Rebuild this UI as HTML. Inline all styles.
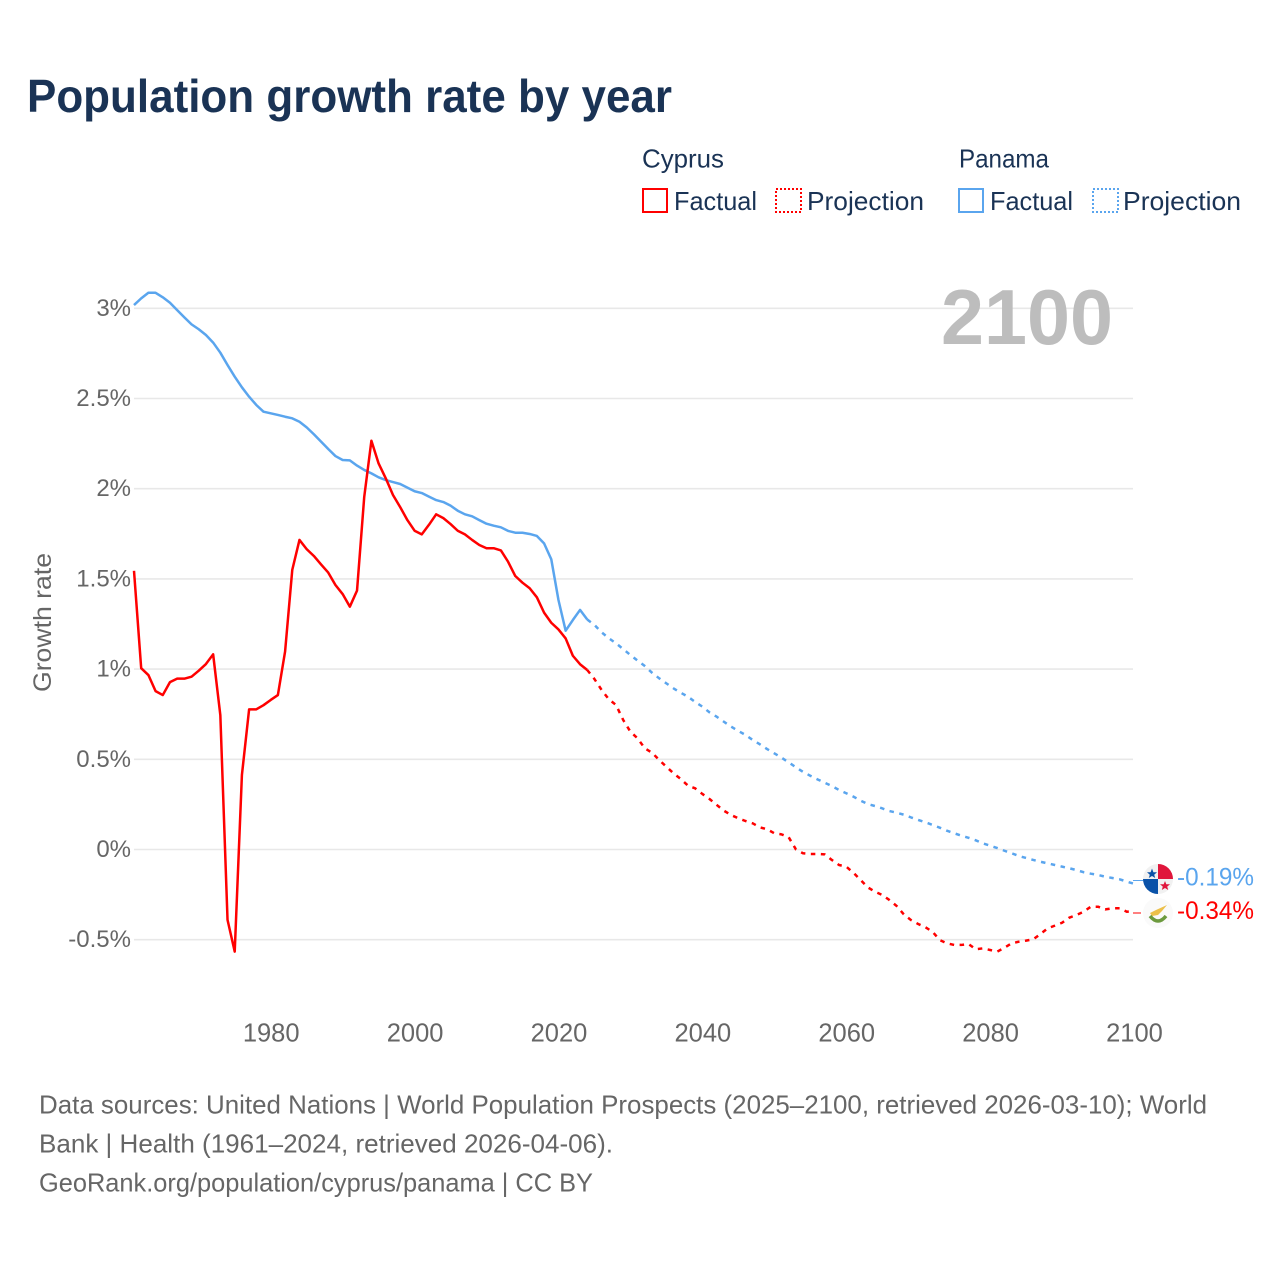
<!DOCTYPE html>
<html lang="en">
<head>
<meta charset="utf-8">
<title>Population growth rate by year</title>
<style>
html,body{margin:0;padding:0;background:#fff;}
svg{display:block;font-family:"Liberation Sans",sans-serif;}
.leg{fill:#1a3355;font-size:26px;}
.foot{fill:#666;font-size:26px;}
.tick{fill:#666;}
.ytick{font-size:24px;}
.xtick{font-size:25.5px;}
</style>
</head>
<body>
<svg id="chart" xmlns="http://www.w3.org/2000/svg" width="1280" height="1280" viewBox="0 0 1280 1280">
  <rect x="0" y="0" width="1280" height="1280" fill="#fff"/>
  <text x="27" y="112" font-size="46" font-weight="700" fill="#1a3355" textLength="645" lengthAdjust="spacingAndGlyphs">Population growth rate by year</text>

  <g>
    <text class="leg" x="642" y="167.5" textLength="82" lengthAdjust="spacingAndGlyphs">Cyprus</text>
    <text class="leg" x="959" y="167.5" textLength="90" lengthAdjust="spacingAndGlyphs">Panama</text>
    <g>
      <rect x="643" y="189" width="24" height="23" fill="none" stroke="#ff0000" stroke-width="2"/>
      <text class="leg" x="674" y="210" textLength="83" lengthAdjust="spacingAndGlyphs">Factual</text>
    </g>
    <g>
      <rect x="776" y="189" width="25" height="23" fill="none" stroke="#ff0000" stroke-width="2" stroke-dasharray="2 2"/>
      <text class="leg" x="807" y="210" textLength="117" lengthAdjust="spacingAndGlyphs">Projection</text>
    </g>
    <g>
      <rect x="959" y="189" width="24" height="23" fill="none" stroke="#5aa5ee" stroke-width="2"/>
      <text class="leg" x="990" y="210" textLength="83" lengthAdjust="spacingAndGlyphs">Factual</text>
    </g>
    <g>
      <rect x="1093" y="189" width="25" height="23" fill="none" stroke="#5aa5ee" stroke-width="2" stroke-dasharray="2 2"/>
      <text class="leg" x="1123" y="210" textLength="118" lengthAdjust="spacingAndGlyphs">Projection</text>
    </g>
  </g>

  <g id="grid"></g>
  <text x="941" y="344" font-size="78" font-weight="700" fill="#bdbdbd" textLength="172" lengthAdjust="spacingAndGlyphs">2100</text>
  <g id="yticks"></g>
  <g id="xticks"></g>
  <text transform="translate(51,692) rotate(-90)" font-size="25" fill="#666" textLength="139" lengthAdjust="spacingAndGlyphs">Growth rate</text>

  <g id="series"></g>

  <g>
    <line x1="1133" y1="880.5" x2="1144" y2="880.5" stroke="#5aa5ee" stroke-width="1"/>
    <circle cx="1158" cy="879" r="15" fill="#f1f1f1"/>
    <path d="M1158 879V864A15 15 0 0 1 1173 879Z" fill="#e0163c"/>
    <path d="M1158 879V894A15 15 0 0 1 1143 879Z" fill="#0a52a8"/>
    <polygon points="1152,868.5 1153.4,872.3 1157,872.3 1154.2,874.7 1155.2,878 1152,876 1148.8,878 1149.8,874.7 1147,872.3 1150.6,872.3" fill="#0a52a8"/>
    <polygon points="1165,881 1166.3,884.3 1170,884.3 1167.2,886.6 1168.2,890 1165,888 1161.8,890 1162.8,886.6 1160,884.3 1163.7,884.3" fill="#e0163c"/>
  </g>
  <g>
    <line x1="1133" y1="913" x2="1141" y2="913" stroke="#ff0000" stroke-width="1"/>
    <circle cx="1158" cy="913" r="15" fill="#fafafa"/>
    <path d="M1150 913L1156 910L1167 905L1162 911L1158 915L1152 916Z" fill="#ecc04a"/>
    <path d="M1150 916Q1158 926 1166 916" fill="none" stroke="#6c9a3e" stroke-width="3.5"/>
  </g>
  <g id="endlabels"></g>

  <g>
    <text class="foot" x="39" y="1113.5" textLength="1168" lengthAdjust="spacingAndGlyphs">Data sources: United Nations | World Population Prospects (2025–2100, retrieved 2026-03-10); World</text>
    <text class="foot" x="39" y="1152.5" textLength="574" lengthAdjust="spacingAndGlyphs">Bank | Health (1961–2024, retrieved 2026-04-06).</text>
    <text class="foot" x="39" y="1191.5" textLength="554" lengthAdjust="spacingAndGlyphs">GeoRank.org/population/cyprus/panama | CC BY</text>
  </g>
</svg>
<script>
const yTickValues = [3, 2.5, 2, 1.5, 1, 0.5, 0, -0.5];
const xTickYears = [1980, 2000, 2020, 2040, 2060, 2080, 2100];
const factualStartYear = 1961;
const projectionStartYear = 2024;
const cyprusFactual = [1.545,1.005,.967,.878,.856,.928,.947,.947,.958,.991,1.028,1.082,.745,-.39,-.566,.413,.777,.777,.80,.829,.856,1.097,1.55,1.716,1.665,1.627,1.58,1.535,1.466,1.416,1.346,1.435,1.954,2.266,2.14,2.057,1.965,1.898,1.826,1.767,1.747,1.80,1.858,1.837,1.804,1.767,1.747,1.716,1.688,1.67,1.67,1.658,1.595,1.516,1.479,1.448,1.398,1.313,1.257,1.22,1.17,1.074,1.027,.995];
const cyprusProjection = [.995,.945,.884,.833,.801,.718,.653,.616,.561,.537,.496,.459,.422,.391,.354,.339,.308,.28,.247,.215,.191,.173,.158,.145,.123,.112,.09,.084,.068,.001,-.021,-.025,-.025,-.027,-.058,-.086,-.095,-.129,-.169,-.21,-.234,-.252,-.28,-.313,-.359,-.391,-.413,-.431,-.456,-.502,-.52,-.529,-.529,-.524,-.553,-.548,-.557,-.566,-.544,-.52,-.511,-.505,-.498,-.468,-.437,-.422,-.406,-.378,-.363,-.345,-.317,-.317,-.332,-.326,-.326,-.345,-.34];
const panamaFactual = [3.018,3.055,3.086,3.086,3.061,3.031,2.99,2.95,2.911,2.884,2.852,2.81,2.754,2.686,2.621,2.562,2.51,2.464,2.427,2.418,2.409,2.399,2.39,2.371,2.34,2.302,2.261,2.22,2.181,2.159,2.157,2.128,2.104,2.085,2.063,2.048,2.037,2.026,2.006,1.986,1.976,1.956,1.937,1.926,1.906,1.878,1.858,1.847,1.826,1.806,1.795,1.786,1.766,1.756,1.756,1.749,1.738,1.697,1.609,1.383,1.213,1.272,1.328,1.275];
const panamaProjection = [1.275,1.245,1.204,1.171,1.143,1.111,1.078,1.047,1.017,.98,.949,.921,.893,.869,.847,.818,.792,.76,.736,.708,.681,.657,.635,.607,.583,.557,.533,.509,.483,.456,.43,.409,.389,.37,.352,.33,.312,.293,.271,.252,.241,.228,.213,.204,.193,.178,.164,.151,.136,.121,.104,.09,.077,.065,.051,.034,.021,.008,-.007,-.021,-.036,-.047,-.058,-.068,-.077,-.086,-.095,-.104,-.114,-.126,-.134,-.141,-.151,-.158,-.165,-.178,-.19];

const NS = 'http://www.w3.org/2000/svg';
const xScale = year => 134 + (year - 1961) * (1134 - 134) / (2100 - 1961);
const yScale = value => 849.5 - value * 180.4;
const RED = '#ff0000';
const BLUE = '#5aa5ee';

function linePoints(values, startYear) {
  return values.map((v, i) => xScale(startYear + i).toFixed(2) + ',' + yScale(v).toFixed(2)).join(' ');
}

const grid = document.getElementById('grid');
const yticks = document.getElementById('yticks');
yTickValues.forEach(v => {
  const gl = document.createElementNS(NS, 'line');
  
  
  gl.setAttribute('x1', 134);
  gl.setAttribute('x2', 1133);
  gl.setAttribute('y1', yScale(v));
  gl.setAttribute('y2', yScale(v));
  gl.setAttribute('stroke', '#e8e8e8');
  gl.setAttribute('stroke-width', '1.6');
  grid.appendChild(gl);
  const t = document.createElementNS(NS, 'text');
  
  
  t.setAttribute('class', 'tick ytick');
  t.setAttribute('x', 131);
  t.setAttribute('y', yScale(v) + 7.5);
  t.setAttribute('text-anchor', 'end');
  t.textContent = v + '%';
  yticks.appendChild(t);
});

const xticks = document.getElementById('xticks');
xTickYears.forEach(y => {
  const t = document.createElementNS(NS, 'text');
  
  
  t.setAttribute('class', 'tick xtick');
  t.setAttribute('x', xScale(y) + 0.5);
  t.setAttribute('y', 1041.5);
  t.setAttribute('text-anchor', 'middle');
  t.textContent = y;
  xticks.appendChild(t);
});

const seriesGroup = document.getElementById('series');
function addLine(name, values, startYear, color, dashed) {
  const p = document.createElementNS(NS, 'polyline');
  
  
  p.setAttribute('points', linePoints(values, startYear));
  p.setAttribute('fill', 'none');
  p.setAttribute('stroke', color);
  p.setAttribute('stroke-width', '2.5');
  p.setAttribute('stroke-linejoin', 'round');
  if (dashed) p.setAttribute('stroke-dasharray', '4.5 5.5');
  seriesGroup.appendChild(p);
}
addLine('panama-factual-line', panamaFactual, factualStartYear, BLUE, false);
addLine('panama-projection-line', panamaProjection, projectionStartYear, BLUE, true);
addLine('cyprus-factual-line', cyprusFactual, factualStartYear, RED, false);
addLine('cyprus-projection-line', cyprusProjection, projectionStartYear, RED, true);

const endLabels = document.getElementById('endlabels');
function addEndLabel(name, values, color, offset) {
  const last = values[values.length - 1];
  const t = document.createElementNS(NS, 'text');
  
  
  t.setAttribute('x', 1177);
  t.setAttribute('y', yScale(last) + offset);
  t.setAttribute('font-size', '25');
  t.setAttribute('fill', color);
  t.setAttribute('textLength', '77');
  t.setAttribute('lengthAdjust', 'spacingAndGlyphs');
  t.textContent = last.toFixed(2) + '%';
  endLabels.appendChild(t);
}
addEndLabel('panama-end-value', panamaProjection, BLUE, 1.5);
addEndLabel('cyprus-end-value', cyprusProjection, RED, 8);
</script>
</body>
</html>
